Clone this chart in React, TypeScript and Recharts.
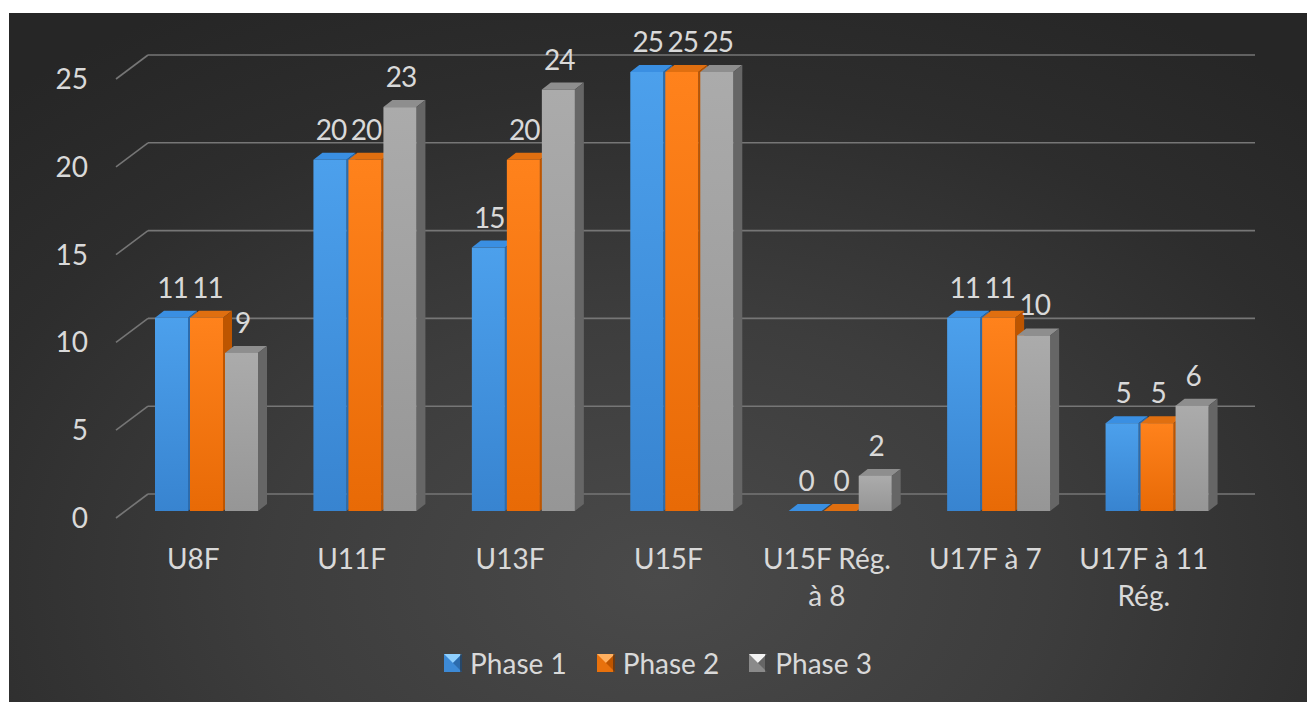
import React from "react";
import {
  BarChart,
  Bar,
  XAxis,
  YAxis,
  CartesianGrid,
  Legend,
  LabelList,
} from "recharts";

// ---- data ----
const categories = [
  "U8F",
  "U11F",
  "U13F",
  "U15F",
  "U15F Rég. à 8",
  "U17F à 7",
  "U17F à 11 Rég.",
];
const phase1 = [11, 20, 15, 25, 0, 11, 5];
const phase2 = [11, 20, 20, 25, 0, 11, 5];
const phase3 = [9, 23, 24, 25, 2, 10, 6];
const seriesNames = ["Phase 1", "Phase 2", "Phase 3"];
const yTicks = [0, 5, 10, 15, 20, 25];

const data = categories.map((c, i) => ({
  name: c,
  p1: phase1[i],
  p2: phase2[i],
  p3: phase3[i],
}));

const FONT = "Lato, 'Noto Sans', sans-serif";
const TEXT = "#d9d9d9";
const GRID = "#767676";
const FS = 28;
const DX = 9;
const DY = 7;

const palettes = [
  { id: "g1", top: "#3a8fe2", side: "#2c6cae", a: "#4ca0ec", b: "#3884d0", icon: "#3d8ad6", iconTop: "#8fd0ff" },
  { id: "g2", top: "#e06f10", side: "#bd5500", a: "#ff821c", b: "#e86a06", icon: "#e8710c", iconTop: "#ffb060" },
  { id: "g3", top: "#8e8e8e", side: "#666666", a: "#ababab", b: "#969696", icon: "#8a8a8a", iconTop: "#f2f2f2" },
];

function make3D(pi: number) {
  const p = palettes[pi];
  return (props: any) => {
    const { x, y, width, height } = props;
    if (x == null || y == null || width == null) return <g />;
    const h = Math.max(0, height || 0);
    return (
      <g>
        <polygon
          points={`${x},${y} ${x + DX},${y - DY} ${x + width + DX},${y - DY} ${x + width},${y}`}
          fill={p.top}
        />
        <polygon
          points={`${x + width},${y} ${x + width + DX},${y - DY} ${x + width + DX},${y + h - DY} ${x + width},${y + h}`}
          fill={p.side}
        />
        {h > 0 && <rect x={x} y={y} width={width} height={h} fill={`url(#${p.id})`} />}
      </g>
    );
  };
}

const renderValueLabel = (props: any) => {
  const { x, y, width, value } = props;
  return (
    <text
      x={x + width / 2 + 1}
      y={y - 20}
      textAnchor="middle"
      fill={TEXT}
      fontFamily={FONT}
      fontSize={FS}
      letterSpacing={-1}
    >
      {value}
    </text>
  );
};

function wrapLabel(s: string, max: number): string[] {
  const words = s.split(" ");
  const lines: string[] = [];
  let cur = "";
  for (const w of words) {
    const t = cur ? cur + " " + w : w;
    if (t.length > max && cur) {
      lines.push(cur);
      cur = w;
    } else cur = t;
  }
  if (cur) lines.push(cur);
  return lines;
}

const XTick = (props: any) => {
  const { x, y, payload } = props;
  const lines = wrapLabel(String(payload.value), 10);
  return (
    <g>
      {lines.map((l, i) => (
        <text
          key={i}
          x={x - 13}
          y={y + 58 + i * 37}
          textAnchor="middle"
          fill={TEXT}
          fontFamily={FONT}
          fontSize={FS}
        >
          {l}
        </text>
      ))}
    </g>
  );
};

const YTick = (props: any) => {
  const { y, payload } = props;
  return (
    <text
      x={79}
      y={y + 6}
      textAnchor="end"
      dominantBaseline="central"
      fill={TEXT}
      fontFamily={FONT}
      fontSize={FS}
    >
      {payload.value}
    </text>
  );
};

const gridLine = (props: any) => {
  const { x1, x2, y1, key } = props;
  const back = y1 - 17;
  const front = y1 + 7;
  return (
    <g key={key}>
      <line x1={x1 - 11} y1={front} x2={x1 + 21} y2={back} stroke={GRID} strokeWidth={1.6} />
      <line x1={x1 + 21} y1={back} x2={x2 + 19} y2={back} stroke={GRID} strokeWidth={1.6} />
    </g>
  );
};

const LegendIcon = ({ pi }: { pi: number }) => {
  const p = palettes[pi];
  return (
    <svg width={18} height={18} style={{ display: "block" }}>
      <rect x={0} y={0} width={18} height={18} fill={p.icon} />
      <polygon points="0,0 18,0 9,9" fill={p.iconTop} />
      <polygon points="18,0 18,18 9,9" fill={p.side} />
      <rect x={16} y={0} width={2} height={18} fill="#222" opacity={0.5} />
    </svg>
  );
};

const renderLegend = () => (
  <div
    style={{
      display: "flex",
      justifyContent: "center",
      alignItems: "center",
      height: 36,
      fontFamily: FONT,
      fontSize: FS,
      color: TEXT,
    }}
  >
    {seriesNames.map((n, i) => (
      <div
        key={n}
        style={{ display: "flex", alignItems: "center", marginLeft: i === 0 ? 0 : 30 }}
      >
        <LegendIcon pi={i} />
        <span style={{ marginLeft: 8, lineHeight: "36px" }}>{n}</span>
      </div>
    ))}
  </div>
);

export default function App() {
  return (
    <div
      style={{
        position: "absolute",
        left: 9,
        top: 13,
        width: 1298,
        height: 689,
        background:
          "radial-gradient(ellipse 75% 95% at 50% 82%, #4a4a4a 0%, #3d3d3d 40%, #2d2d2d 75%, #262626 100%)",
        fontFamily: FONT,
      }}
    >
      <BarChart
        width={1298}
        height={689}
        data={data}
        margin={{ top: 59, right: 71, left: 0, bottom: 131 }}
        barSize={33}
        barGap={2}
      >
        <defs>
          {palettes.map((p) => (
            <linearGradient key={p.id} id={p.id} x1="0" y1="0" x2="0" y2="1">
              <stop offset="0%" stopColor={p.a} />
              <stop offset="100%" stopColor={p.b} />
            </linearGradient>
          ))}
        </defs>
        <CartesianGrid vertical={false} horizontal={gridLine} stroke={GRID} />
        <XAxis
          dataKey="name"
          axisLine={false}
          tickLine={false}
          tickSize={0}
          tickMargin={0}
          height={60}
          interval={0}
          tick={<XTick />}
        />
        <YAxis
          domain={[0, 25]}
          ticks={yTicks}
          axisLine={false}
          tickLine={false}
          width={118}
          tick={<YTick />}
        />
        <Legend
          verticalAlign="middle"
          layout="horizontal"
          align="center"
          content={renderLegend}
          wrapperStyle={{ top: 632, left: 0, width: 1298, height: 36 }}
        />
        <Bar dataKey="p1" name={seriesNames[0]} shape={make3D(0)} isAnimationActive={false}>
          <LabelList dataKey="p1" content={renderValueLabel} />
        </Bar>
        <Bar dataKey="p2" name={seriesNames[1]} shape={make3D(1)} isAnimationActive={false}>
          <LabelList dataKey="p2" content={renderValueLabel} />
        </Bar>
        <Bar dataKey="p3" name={seriesNames[2]} shape={make3D(2)} isAnimationActive={false}>
          <LabelList dataKey="p3" content={renderValueLabel} />
        </Bar>
      </BarChart>
    </div>
  );
}
